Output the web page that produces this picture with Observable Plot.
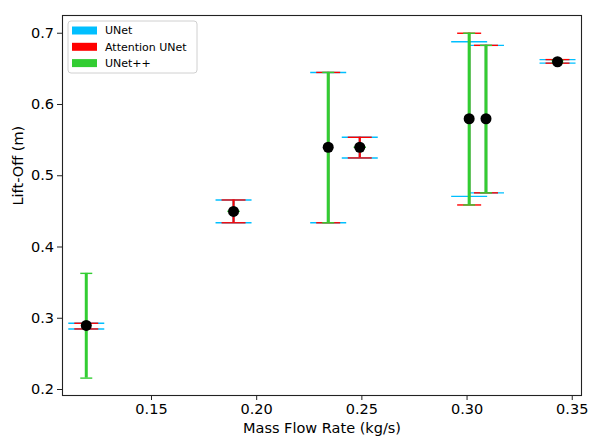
<!DOCTYPE html>
<html><head><meta charset="utf-8">
<script src="https://cdn.jsdelivr.net/npm/d3@7"></script>
<script src="https://cdn.jsdelivr.net/npm/@observablehq/plot@0.6"></script>
<style>body{margin:0;background:#fff}</style>
</head><body><div id="chart"></div>
<script>
// ---- data ----
const models = ["UNet", "Attention UNet", "UNet++"];
const flowRate = [0.119, 0.189, 0.234, 0.249, 0.301, 0.309, 0.343];
const liftOff  = [0.29, 0.45, 0.54, 0.54, 0.58, 0.58, 0.66];
const unetLow   = [0.285, 0.434, 0.434, 0.525, 0.471, 0.476, 0.658];
const unetHigh  = [0.293, 0.466, 0.645, 0.554, 0.688, 0.683, 0.663];
const attLow    = [0.285, 0.434, 0.434, 0.525, 0.459, 0.476, 0.658];
const attHigh   = [0.293, 0.466, 0.645, 0.554, 0.700, 0.683, 0.663];
const unetppLow  = [0.216, 0.450, 0.434, 0.540, 0.459, 0.476, 0.659];
const unetppHigh = [0.363, 0.450, 0.645, 0.540, 0.700, 0.683, 0.662];
const xTicks = [0.15, 0.20, 0.25, 0.30, 0.35];
const yTicks = [0.2, 0.3, 0.4, 0.5, 0.6, 0.7];

// ---- styles ----
const colors = ["#00bfff", "#ff0000", "#32cd32"];
const lineWidths = [2.2, 2.2, 3];
const capHalf = [18, 12, 6];

const lows = [unetLow, attLow, unetppLow];
const highs = [unetHigh, attHigh, unetppHigh];

const capSymbol = {
  draw(ctx, size) {
    const r = Math.sqrt(size / Math.PI);
    ctx.moveTo(-r, 0);
    ctx.lineTo(r, 0);
  }
};

const errMarks = [];
models.forEach((m, i) => {
  const rows = flowRate.map((x, j) => ({x, lo: lows[i][j], hi: highs[i][j]}));
  errMarks.push(Plot.ruleX(rows, {x: "x", y1: "lo", y2: "hi", stroke: colors[i], strokeWidth: lineWidths[i]}));
  errMarks.push(Plot.dot(rows, {x: "x", y: "lo", symbol: capSymbol, r: capHalf[i], stroke: colors[i], fill: "none", strokeWidth: 1.4}));
  errMarks.push(Plot.dot(rows, {x: "x", y: "hi", symbol: capSymbol, r: capHalf[i], stroke: colors[i], fill: "none", strokeWidth: 1.4}));
});

const points = flowRate.map((x, j) => ({x, y: liftOff[j]}));

function legend(index, scales, values, dims) {
  const x0 = dims.marginLeft + 6, y0 = dims.marginTop + 6;
  const g = d3.create("svg:g").attr("text-anchor", "start");
  g.append("rect").attr("x", x0).attr("y", y0).attr("width", 129).attr("height", 52)
    .attr("rx", 3).attr("fill", "white").attr("fill-opacity", 0.8)
    .attr("stroke", "#d0d0d0").attr("stroke-width", 1);
  models.forEach((m, i) => {
    const cy = y0 + 9.5 + i * 16.3;
    g.append("rect").attr("x", x0 + 4).attr("y", cy - 4).attr("width", 25).attr("height", 8).attr("fill", colors[i]);
    g.append("text").attr("x", x0 + 37).attr("y", cy).attr("dy", "0.36em")
      .attr("text-anchor", "start").attr("font-size", "11px").attr("fill", "#000").text(m);
  });
  return g.node();
}

const chart = Plot.plot({
  width: 606,
  height: 445,
  marginLeft: 62,
  marginRight: 25,
  marginTop: 15,
  marginBottom: 50,
  style: {fontFamily: "DejaVu Sans", fontSize: "14.5px", color: "#000", background: "#fff"},
  x: {domain: [0.1077, 0.3544]},
  y: {domain: [0.1916, 0.7249]},
  marks: [
    ...errMarks,
    Plot.dot(points, {x: "x", y: "y", r: 5.5, fill: "black"}),
    Plot.frame({stroke: "#222", strokeWidth: 1.1}),
    Plot.axisX(xTicks, {tickFormat: d3.format(".2f"), tickSize: 5, tickPadding: 3, label: null, stroke: "#222", fontSize: 14.5}),
    Plot.axisY(yTicks, {tickFormat: d3.format(".1f"), tickSize: 5, tickPadding: 3.5, label: null, stroke: "#222", fontSize: 14.5}),
    Plot.text(["Mass Flow Rate (kg/s)"], {frameAnchor: "bottom", dy: 37, fontSize: 14.5, fill: "#000"}),
    Plot.text(["Lift-Off (m)"], {frameAnchor: "left", dx: -44, rotate: -90, fontSize: 14.5, fill: "#000"}),
    legend
  ]
});
document.getElementById("chart").appendChild(chart);
</script>
</body></html>
